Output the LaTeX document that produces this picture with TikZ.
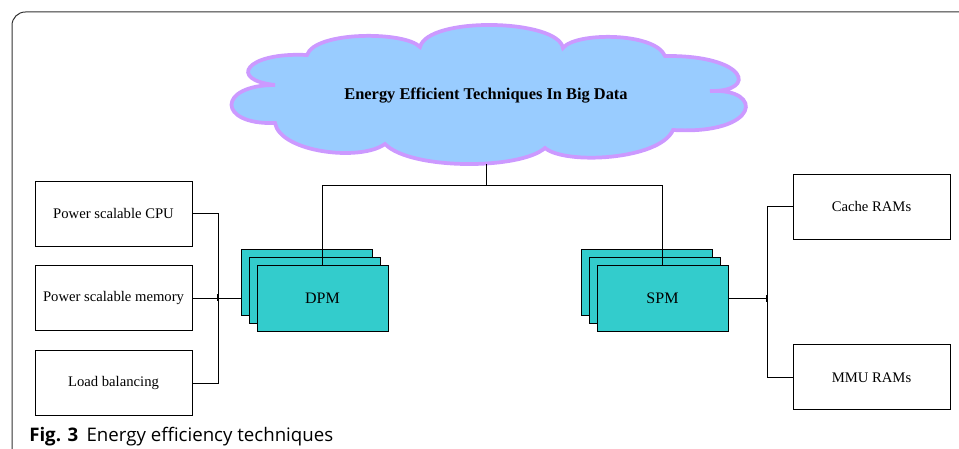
\documentclass[tikz,border=0pt]{standalone}
\usepackage{fontspec}
\setmainfont{Liberation Serif}
\newfontfamily\capfont{Open Sans}
\usepackage{tikz}
\usetikzlibrary{positioning,calc}
\definecolor{cloudblue}{RGB}{153,204,255}
\definecolor{cloudline}{RGB}{204,153,255}
\definecolor{pmcyan}{RGB}{51,204,204}

\begin{document}
\begin{tikzpicture}[x=0.75pt, y=-0.75pt,
        basic/.style  = {draw, line width=0.6pt, rectangle, align=center, font=\fontsize{11}{13}\selectfont},
        puffs/.style  = {draw=cloudline, line width=2.8pt, fill=cloudblue},
        root/.style   = {inner sep=0pt, font=\bfseries\fontsize{12.3}{15}\selectfont},
        leaf/.style   = {basic, minimum width=117.75pt, minimum height=48.75pt},
        stack/.style  = {basic, fill=pmcyan, minimum width=98.25pt, minimum height=49.5pt, font=\fontsize{12}{14}\selectfont},
        link/.style   = {draw, line width=0.6pt}]

        \useasboundingbox (0,0) rectangle (959,449);

        % panel frame
        \draw[rounded corners=10, line width=0.75pt, black!80] (12,449) -- (12,12) -- (959,12);

        % the cloud, puff by puff
        \path[puffs] (307,55)
            .. controls (315,31) and (405,31) .. (420,47)
            .. controls (428,16) and (558,19) .. (563,48)
            .. controls (575,32) and (655,32) .. (665,56)
            .. controls (748,55) and (758,92) .. (710,91)
            .. controls (765,88) and (760,135) .. (673,130)
            .. controls (660,160) and (565,165) .. (545,148)
            .. controls (520,170) and (410,170) .. (385,144)
            .. controls (360,162) and (280,152) .. (275,123)
            .. controls (217,125) and (217,85) .. (275,85)
            .. controls (228,80) and (245,52) .. (307,55) -- cycle;
        \node[root] (r) at (486,96) {Energy Efficient Techniques In Big Data};
        \coordinate (rb) at (486,164);

        % the two power managers, drawn as stacks of pages
        \coordinate (dpmc) at (322.5,298);
        \coordinate (spmc) at (662.5,298);
        \foreach \d/\n in {16/3,8/2} {
            \node[stack] (dpm\n) at ($(dpmc)+(-\d,-\d)$) {};
            \node[stack] (spm\n) at ($(spmc)+(-\d,-\d)$) {};
        }
        \node[stack] (dpm) at (dpmc) {DPM};
        \node[stack] (spm) at (spmc) {SPM};

        % leaves of DPM
        \node[leaf] (c1) at (113.5,213.5) {Power scalable CPU};
        \node[leaf, below=14.25pt of c1] (c2) {Power scalable memory};
        \node[leaf, below=14.25pt of c2] (c3) {Load balancing};

        % leaves of SPM
        \node[leaf] (d1) at (871.5,206.5) {Cache RAMs};
        \node[leaf, below=78.75pt of d1] (d2) {MMU RAMs};

        % lines from the cloud to the managers
        \coordinate (top) at (486,185);
        \draw[link] (rb) -- (top);
        \draw[link] (top) -| (dpm.north);
        \draw[link] (top) -| (spm.north);

        % lines from DPM to its leaves
        \coordinate (jl) at (218,298);
        \draw[link] (c1.east) -- (c1.east -| jl) -- (c3.east -| jl) -- (c3.east);
        \draw[link] (c2.east) -- (c2.east -| dpm3.west);
        \draw[line width=1.5pt] ($(jl)+(0,-4)$) -- ($(jl)+(0,3)$);

        % lines from SPM to its leaves
        \coordinate (jr) at (767,298);
        \draw[link] (spm.east) -- (jr);
        \draw[link] (d1.west) -- (d1.west -| jr) -- (d2.west -| jr) -- (d2.west);
        \draw[line width=1.5pt] ($(jr)+(0,-3)$) -- ($(jr)+(0,4)$);

        % caption
        \node[anchor=base west, inner sep=0pt, font=\capfont\fontsize{14}{16}\selectfont] (cap) at (29,441.5) {\textbf{Fig. 3}\hspace{0.45em}Energy efficiency techniques};
\end{tikzpicture}
\end{document}
